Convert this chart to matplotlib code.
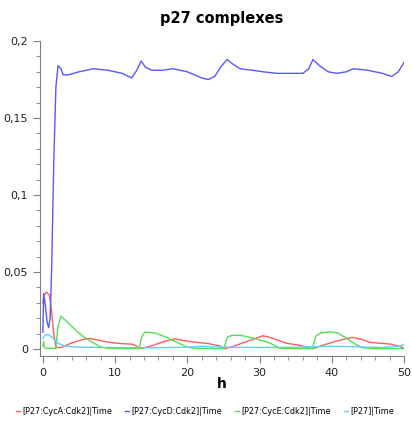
import matplotlib
matplotlib.use("Agg")
import matplotlib.pyplot as plt
from matplotlib.ticker import MultipleLocator, FuncFormatter
from matplotlib.lines import Line2D

# p27 complexes over time (h)
t_cyca = [0, 0.15, 0.5, 0.9, 1.2, 1.5, 1.8, 2.5, 4, 5.5, 6.5, 7.5, 9, 10.5, 12.5, 13.1, 13.5,
          15, 16.5, 18.3, 19.5, 21, 23, 24.5, 25.2, 26.5, 28, 30.5, 31.5, 33.8, 35.5, 37.3,
          38.5, 40.5, 42.8, 44, 45.3, 48, 49.3, 50]
v_cyca = [0.030, 0.035, 0.037, 0.035, 0.025, 0.01, 0.001, 0.001, 0.004, 0.0062, 0.0069, 0.006,
          0.0045, 0.0037, 0.0031, 0.0015, 0.0003, 0.002, 0.0045, 0.0067, 0.0055, 0.0045, 0.0035,
          0.002, 0.0002, 0.002, 0.0045, 0.0087, 0.0075, 0.0037, 0.0025, 0.0002, 0.002, 0.005,
          0.0076, 0.0065, 0.0043, 0.0033, 0.002, 0.0005]

t_cycd = [0, 0.1, 0.3, 0.6, 0.8, 1.0, 1.2, 1.5, 1.8, 2.1, 2.5, 2.8, 3.5, 5, 7, 9, 11, 12.3, 13,
          13.6, 14.2, 15.1, 16.5, 18, 20, 22, 22.9, 23.8, 24.6, 25.5, 26.3, 27.3, 29, 30.5,
          32.4, 34, 36, 36.8, 37.4, 38.3, 39.5, 40.7, 42, 43, 45, 47, 48.3, 49.2, 50]
v_cycd = [0.011, 0.036, 0.03, 0.017, 0.014, 0.02, 0.05, 0.12, 0.17, 0.184, 0.182, 0.178, 0.178,
          0.18, 0.182, 0.181, 0.179, 0.176, 0.181, 0.187, 0.183, 0.181, 0.181, 0.182, 0.180,
          0.176, 0.175, 0.177, 0.183, 0.188, 0.185, 0.182, 0.181, 0.180, 0.179, 0.179, 0.179,
          0.182, 0.188, 0.184, 0.18, 0.179, 0.18, 0.182, 0.181, 0.179, 0.177, 0.180, 0.186]

t_cyce = [0, 0.1, 0.2, 0.4, 1.8, 2.1, 2.5, 3.5, 4.5, 5.6, 7, 7.9, 9, 12, 13.3, 13.7, 14.1, 15.5,
          17.2, 18.5, 19.9, 21, 24, 25.1, 25.5, 26.2, 27.5, 29.1, 31.4, 32.8, 36, 37.3, 37.8,
          38.5, 39.7, 40.8, 42.1, 43.3, 44.3, 46, 50]
v_cyce = [0.002, 0.005, 0.001, 0.0005, 0.0005, 0.015, 0.0214, 0.017, 0.0125, 0.008, 0.004,
          0.0015, 0.0005, 0.0003, 0.0003, 0.008, 0.011, 0.0105, 0.0075, 0.0045, 0.0015, 0.0005,
          0.0003, 0.0003, 0.0075, 0.009, 0.0088, 0.0072, 0.004, 0.0005, 0.0003, 0.0003, 0.0085,
          0.0105, 0.0112, 0.0105, 0.0069, 0.003, 0.0008, 0.0003, 0.0003]

t_p27 = [0, 0.3, 0.7, 1.2, 2, 3, 5, 10, 15, 20, 22, 25, 30, 35, 40, 43, 47, 49.5, 50]
v_p27 = [0.007, 0.009, 0.0095, 0.008, 0.004, 0.002, 0.0012, 0.001, 0.0008, 0.0012, 0.0018,
         0.0012, 0.001, 0.0012, 0.0018, 0.0015, 0.001, 0.002, 0.003]

labels = ["[P27:CycA:Cdk2]|Time", "[P27:CycD:Cdk2]|Time",
          "[P27:CycE:Cdk2]|Time", "[P27]|Time"]
colors = ["#ff5c5c", "#5858ff", "#55dd55", "#66ccff"]

fig = plt.figure(figsize=(4.12, 4.24), dpi=100)
ax = fig.add_axes([40 / 412, 1 - 356 / 424, 364 / 412, 315 / 424])

series = [(t_cyca, v_cyca), (t_cycd, v_cycd), (t_cyce, v_cyce), (t_p27, v_p27)]
for (t, v), c in zip(series, colors):
    ax.plot(t, v, color=c, lw=1.0)

ax.set_xlim(-0.4, 50)
ax.set_ylim(-0.0045, 0.2)
ax.xaxis.set_major_locator(MultipleLocator(10))
ax.xaxis.set_minor_locator(MultipleLocator(2))
ax.yaxis.set_major_locator(MultipleLocator(0.05))
ax.yaxis.set_minor_locator(MultipleLocator(0.01))
ax.yaxis.set_major_formatter(FuncFormatter(lambda v, p: ("%g" % round(v, 3)).replace(".", ",")))
ax.xaxis.set_major_formatter(FuncFormatter(lambda v, p: "%g" % v))

for s in ["top", "right"]:
    ax.spines[s].set_visible(False)
for s in ["left", "bottom"]:
    ax.spines[s].set_color("#808080")
ax.tick_params(which="both", colors="#808080", labelcolor="#222222", labelsize=8)
ax.tick_params(which="major", length=5)
ax.tick_params(which="minor", length=3)

fig.text(222 / 412, 1 - 18 / 424, "p27 complexes", ha="center", va="center",
         fontsize=10.5, fontweight="bold")
fig.text(222 / 412, 1 - 384 / 424, "h", ha="center", va="center",
         fontsize=10, fontweight="bold")

handles = [Line2D([], [], color=c, lw=1.0) for c in colors]
fig.legend(handles, labels, loc="center", bbox_to_anchor=(205 / 412, 1 - 411 / 424),
           ncol=4, frameon=False, fontsize=5.8, handlelength=0.5, handletextpad=0.3,
           columnspacing=1.6)

fig.savefig("out.png", dpi=100)
